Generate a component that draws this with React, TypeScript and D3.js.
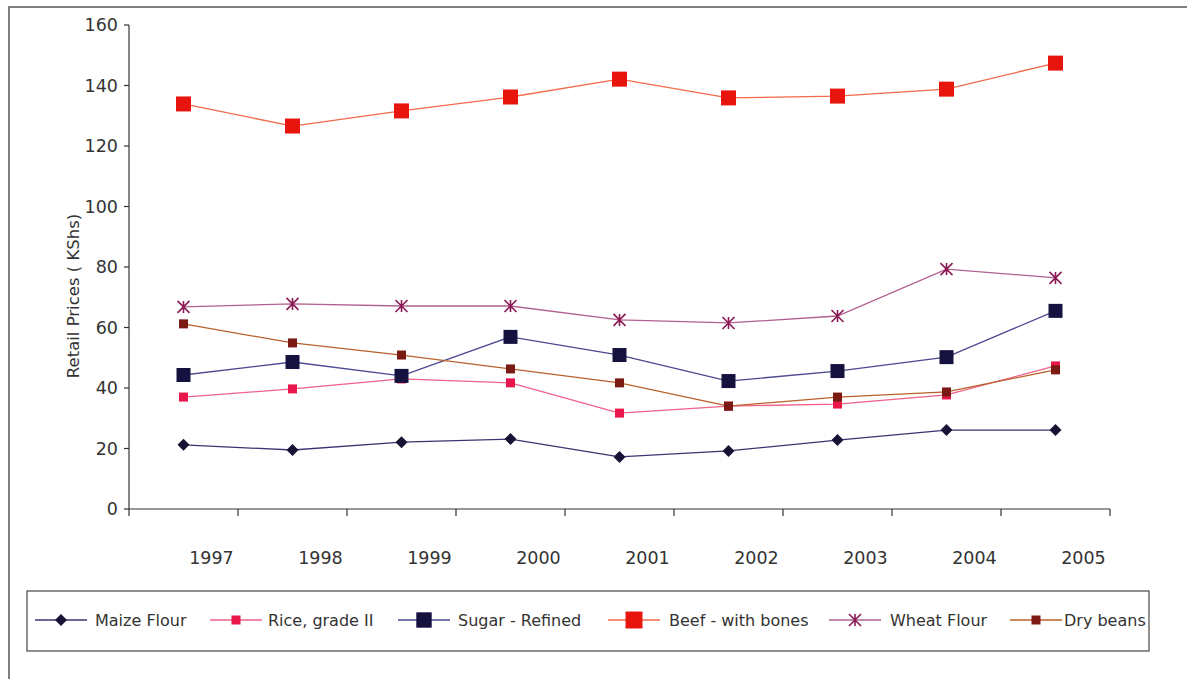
import React from "react";
import * as d3 from "d3";

const years = ["1997", "1998", "1999", "2000", "2001", "2002", "2003", "2004", "2005"];
const maizeFlour = [21.2, 19.5, 22.1, 23.1, 17.2, 19.2, 22.8, 26.1, 26.1];
const riceGradeII = [37.0, 39.7, 43.0, 41.7, 31.7, 34.0, 34.7, 37.7, 47.3];
const sugarRefined = [44.3, 48.6, 44.0, 56.9, 50.9, 42.3, 45.6, 50.2, 65.5];
const beefWithBones = [133.9, 126.6, 131.6, 136.2, 142.1, 135.9, 136.5, 138.8, 147.4];
const wheatFlour = [66.8, 67.8, 67.1, 67.1, 62.5, 61.5, 63.8, 79.3, 76.4];
const dryBeans = [61.2, 54.9, 50.9, 46.3, 41.7, 34.0, 37.0, 38.7, 46.0];
const yTicks = [0, 20, 40, 60, 80, 100, 120, 140, 160];

type Shape = "diamond" | "square" | "bigsquare" | "beefsquare" | "star";
const series: { name: string; values: number[]; line: string; marker: string; shape: Shape }[] = [
  { name: "Maize Flour", values: maizeFlour, line: "#3a3570", marker: "#1a1235", shape: "diamond" },
  { name: "Rice, grade II", values: riceGradeII, line: "#f0608a", marker: "#e8164a", shape: "square" },
  { name: "Sugar - Refined", values: sugarRefined, line: "#4a4890", marker: "#15123f", shape: "bigsquare" },
  { name: "Beef - with bones", values: beefWithBones, line: "#f26a4a", marker: "#e8140e", shape: "beefsquare" },
  { name: "Wheat Flour", values: wheatFlour, line: "#b0608e", marker: "#8a1a55", shape: "star" },
  { name: "Dry beans", values: dryBeans, line: "#b8602a", marker: "#7a1a12", shape: "square" },
];

const FONT = "'DejaVu Sans', Verdana, sans-serif";

function Marker({ shape, x, y, color, k = 1 }: { shape: Shape; x: number; y: number; color: string; k?: number }) {
  if (shape === "diamond") {
    const r = 6 * k;
    return <path d={`M${x},${y - r}L${x + r},${y}L${x},${y + r}L${x - r},${y}Z`} fill={color} />;
  }
  if (shape === "square") {
    const s = 9 * k;
    return <rect x={x - s / 2} y={y - s / 2} width={s} height={s} fill={color} />;
  }
  if (shape === "bigsquare") {
    const s = 14 * k;
    return <rect x={x - s / 2} y={y - s / 2} width={s} height={s} fill={color} />;
  }
  if (shape === "beefsquare") {
    const s = 15 * k;
    return <rect x={x - s / 2} y={y - s / 2} width={s} height={s} fill={color} />;
  }
  const r = 6 * k;
  return (
    <path
      d={`M${x - r},${y - r}L${x + r},${y + r}M${x - r},${y + r}L${x + r},${y - r}M${x},${y - r}L${x},${y + r}`}
      stroke={color}
      strokeWidth={1.6}
      fill="none"
    />
  );
}

export default function App() {
  const width = 1187;
  const height = 679;
  const x0 = 129;
  const x1 = 1110;
  const yTop = 25;
  const yBot = 509;

  const x = d3.scaleBand<string>().domain(years).range([x0, x1]);
  const y = d3.scaleLinear().domain([0, 160]).range([yBot, yTop]);
  const cx = (yr: string) => (x(yr) ?? 0) + x.bandwidth() / 2;

  const line = d3
    .line<number>()
    .x((_, i) => cx(years[i]))
    .y((v) => y(v));

  const legendItems = [
    { lx: 35, tx: 95, k: 1 },
    { lx: 210, tx: 268, k: 1 },
    { lx: 398, tx: 458, k: 1.1 },
    { lx: 608, tx: 669, k: 1.13 },
    { lx: 829, tx: 890, k: 1 },
    { lx: 1010, tx: 1064, k: 1 },
  ];

  return (
    <svg
      width={width}
      height={height}
      style={{ position: "absolute", left: 0, top: 0, background: "#fff" }}
      fontFamily={FONT}
    >
      <rect x={0} y={0} width={width} height={height} fill="#fff" />
      {/* outer frame */}
      <rect x={9} y={7} width={1200} height={700} fill="none" stroke="#555" strokeWidth={1.5} />

      {/* y axis */}
      <line x1={x0} x2={x0} y1={yTop} y2={yBot} stroke="#333" strokeWidth={1.2} />
      {yTicks.map((t) => (
        <g key={t}>
          <line x1={x0 - 5} x2={x0} y1={y(t)} y2={y(t)} stroke="#333" strokeWidth={1.2} />
          <text x={x0 - 11} y={y(t)} dy="0.36em" textAnchor="end" fontSize={17.5} fill="#333">
            {t}
          </text>
        </g>
      ))}

      {/* x axis */}
      <line x1={x0} x2={x1} y1={yBot} y2={yBot} stroke="#333" strokeWidth={1.2} />
      {years.map((yr) => (
        <g key={yr}>
          <line
            x1={(x(yr) ?? 0) + x.bandwidth()}
            x2={(x(yr) ?? 0) + x.bandwidth()}
            y1={yBot}
            y2={yBot + 7}
            stroke="#333"
            strokeWidth={1.2}
          />
          <text x={cx(yr) + 28} y={558} dy="0.36em" textAnchor="middle" fontSize={17.5} fill="#333">
            {yr}
          </text>
        </g>
      ))}
      <line x1={x0} x2={x0} y1={yBot} y2={yBot + 7} stroke="#333" strokeWidth={1.2} />

      {/* y axis title */}
      <text
        transform={`translate(73,296) rotate(-90)`}
        textAnchor="middle"
        dy="0.36em"
        fontSize={16.5}
        fill="#333"
      >
        Retail Prices ( KShs)
      </text>

      {/* series */}
      {series.map((s) => (
        <g key={s.name}>
          <path d={line(s.values) ?? ""} fill="none" stroke={s.line} strokeWidth={1.3} />
          {s.values.map((v, i) => (
            <Marker key={i} shape={s.shape} x={cx(years[i])} y={y(v)} color={s.marker} />
          ))}
        </g>
      ))}

      {/* legend */}
      <rect x={27} y={591} width={1122} height={60} fill="#fff" stroke="#555" strokeWidth={1.3} />
      {series.map((s, i) => {
        const it = legendItems[i];
        const ly = 620;
        return (
          <g key={s.name}>
            <line x1={it.lx} x2={it.lx + 52} y1={ly} y2={ly} stroke={s.line} strokeWidth={1.3} />
            <Marker shape={s.shape} x={it.lx + 26} y={ly} color={s.marker} k={it.k} />
            <text x={it.tx} y={ly} dy="0.36em" fontSize={16} fill="#333">
              {s.name}
            </text>
          </g>
        );
      })}
    </svg>
  );
}
